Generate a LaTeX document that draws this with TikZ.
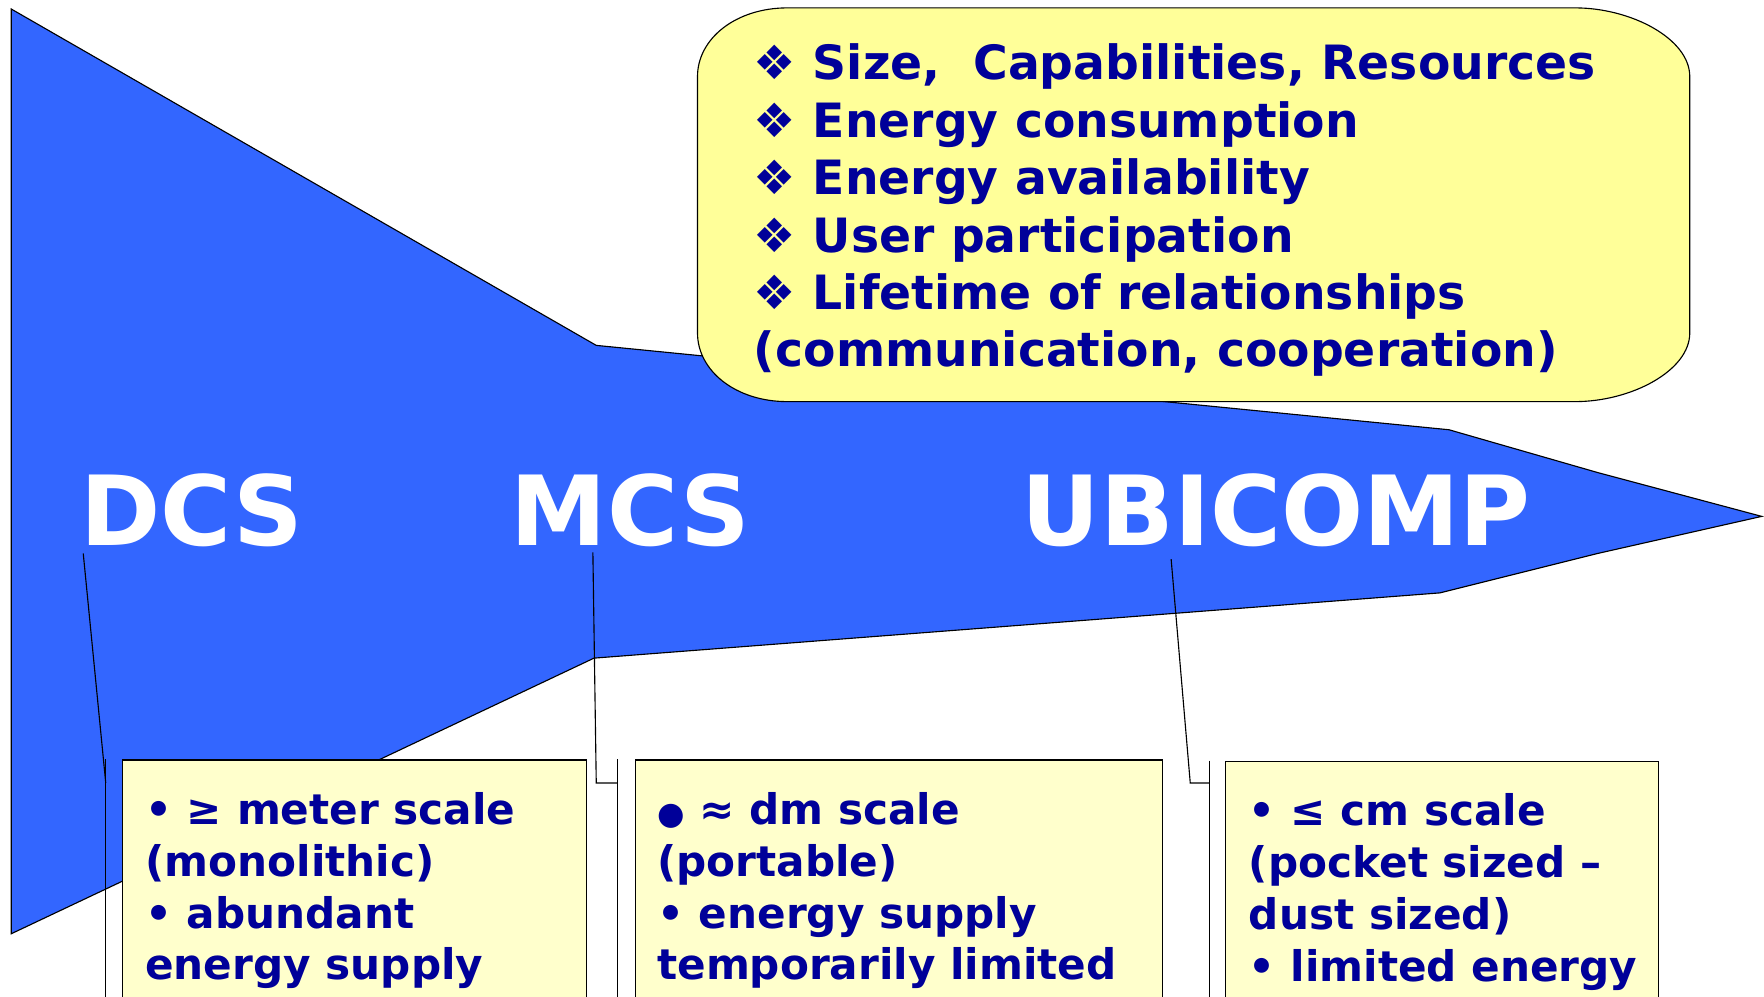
\documentclass[tikz,border=0pt]{standalone}
\usepackage{fontspec}
\setmainfont{DejaVu Sans}
\newfontfamily\dingfont{DejaVu Sans}
\usepackage{xcolor}
\usetikzlibrary{positioning,calc}

\definecolor{wedgeblue}{HTML}{3366FF}
\definecolor{notefill}{HTML}{FFFF99}
\definecolor{boxfill}{HTML}{FFFFCC}
\definecolor{inkblue}{HTML}{000099}

\begin{document}
\begin{tikzpicture}[x=1pt, y=-1pt,
    tag/.style={anchor=base west, inner sep=0pt, text=white, font=\fontsize{86}{86}\selectfont\bfseries},
    note/.style={anchor=base west, inner sep=0pt, align=left, text=inkblue, font=\fontsize{42}{51}\selectfont\bfseries},
    infobox/.style={draw, fill=boxfill, line width=1pt, anchor=north west, minimum height=240pt, inner sep=0pt},
    infotext/.style={anchor=base west, inner sep=0pt, align=left, text=inkblue, font=\fontsize{37.5}{46}\selectfont\bfseries},
    leader/.style={draw, line width=1pt},
]
    \useasboundingbox (0,0) rectangle (1568,886);
    \clip (0,0) rectangle (1568,886);

    % the narrowing arrow
    \draw[fill=wedgeblue, line width=1pt] (10,8) -- (530,307) -- (1288,382) -- (1420,420) -- (1566,459)
        -- (1420,492) -- (1280,527) -- (528,585) -- (10,830) -- cycle;

    % rounded note with the list of factors (base sits on its last line)
    \draw[fill=notefill, line width=1pt] (620,68) .. controls (620,34.5) and (653.8,7) .. (700,7) -- (1400,7)
        .. controls (1450,7) and (1502,34.5) .. (1502,68) -- (1502,296)
        .. controls (1502,329.5) and (1450,357) .. (1400,357) -- (700,357)
        .. controls (653.8,357) and (620,329.5) .. (620,296) -- cycle;
    \node[note] (factors) at (670,326) {{\dingfont\mdseries ❖} Size,\ \ Capabilities, Resources\\
        {\dingfont\mdseries ❖} Energy consumption\\
        {\dingfont\mdseries ❖} Energy availability\\
        {\dingfont\mdseries ❖} User participation\\
        {\dingfont\mdseries ❖} Lifetime of relationships\\
        (communication, cooperation)};

    \node[tag] (dcs) at (71,485) {DCS};
    \node[tag] (mcs) at (454,485) {MCS};
    \node[tag] (ubi) at (908,485) {UBICOMP};

    \node[infobox, minimum width=413pt] (dcsbox) at (108,675) {};
    \node[infobox, minimum width=469pt] (mcsbox) at (564,675) {};
    \node[infobox, minimum width=385pt] (ubibox) at (1089,676) {};

    \node[infotext] (dcsinfo) at (129,871) {• ≥ meter scale\\(monolithic)\\• abundant\\energy supply};
    \node[infotext] (mcsinfo) at (584,871) {{\fontsize{28}{46}\selectfont ●} ≈ dm scale\\(portable)\\• energy supply\\temporarily limited};
    \node[infotext] (ubiinfo) at (1110,872) {• ≤ cm scale\\(pocket sized –\\dust sized)\\• limited energy};

    % callout leaders and accent bars
    \coordinate (dcsfoot) at (74,492);
    \coordinate (mcsfoot) at (527,491);
    \coordinate (ubifoot) at (1041,497);
    \coordinate (dcsbar) at ($(dcsbox.north west)+(-14,0)$);
    \coordinate (mcsbar) at ($(mcsbox.north west)+(-15,0)$);
    \coordinate (ubibar) at ($(ubibox.north west)+(-14,0)$);

    \draw[leader] (dcsbar) -- ++(0,240);
    \draw[leader] (mcsbar) -- ++(0,240);
    \draw[leader] (ubibar) -- ++(0,240);
    \draw[leader] (dcsfoot) -- ($(dcsbar)+(0,21)$);
    \draw[leader] (mcsfoot) -- (530,696) -- ($(mcsbar)+(0,21)$);
    \draw[leader] (ubifoot) -- (1058,696) -- ($(ubibar)+(0,20)$);
\end{tikzpicture}
\end{document}
